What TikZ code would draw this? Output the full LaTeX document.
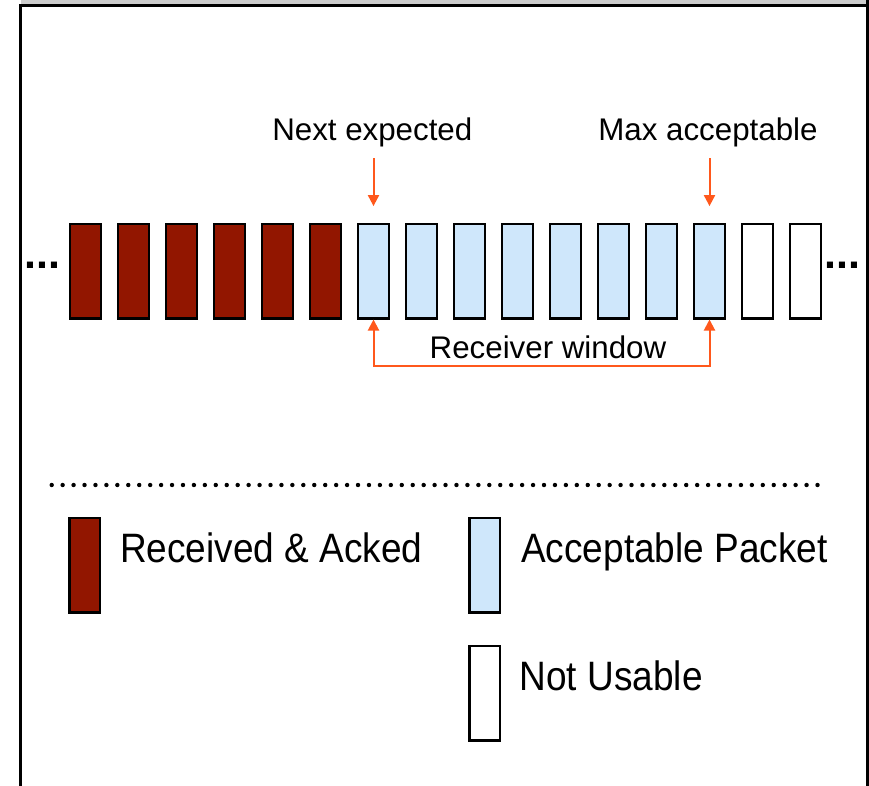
\documentclass[tikz,border=0pt]{standalone}
\usepackage{fontspec}
\usepackage{graphicx}
\setmainfont{Liberation Sans}
\usetikzlibrary{arrows.meta}
\definecolor{ackred}{RGB}{146,22,0}
\definecolor{okblue}{RGB}{207,231,251}
\definecolor{winorange}{RGB}{255,88,28}
\definecolor{headgray}{RGB}{204,204,204}
\begin{document}
\begin{tikzpicture}[x=1pt,y=-1pt,
  pkt/.style={draw=black,line width=2.3pt,minimum width=30.5pt,minimum height=94.1pt,
              inner sep=0pt,anchor=north west},
  acked/.style={pkt,fill=ackred},
  usable/.style={pkt,fill=okblue},
  unused/.style={pkt,fill=white},
  lbl/.style={inner sep=0pt,anchor=base,font=\fontsize{31.3}{36}\selectfont},
  legtext/.style={inner sep=0pt,anchor=base west,font=\fontsize{37}{42}\selectfont},
  more/.style={inner sep=0pt,anchor=base west,font=\fontsize{43}{48}\selectfont\bfseries},
  tip/.style={Triangle[length=11pt,width=11pt,fill=winorange]},
  winarrow/.style={draw=winorange,line width=2pt,arrows={-Triangle[length=11pt,width=11pt,fill=winorange]}},
  winspan/.style={draw=winorange,line width=2pt,
                  arrows={Triangle[length=11pt,width=11pt,fill=winorange]-Triangle[length=11pt,width=11pt,fill=winorange]}}]
\useasboundingbox (0,0) rectangle (869,785);

% frame with grey header strip
\fill[headgray] (20.5,-1) rectangle (866,5.5);
\draw[line width=2.4pt] (20.5,790) -- (20.5,5.5) -- (866,5.5);
\draw[line width=2.6pt] (867.4,-1) -- (867.4,790);

% packet sequence
\foreach \i in {0,...,5}{
  \node[acked] (p\i) at ({69.1+48*\i},223.1) {};
}
\foreach \i in {6,...,13}{
  \node[usable] (p\i) at ({69.1+48*\i},223.1) {};
}
\foreach \i in {14,15}{
  \node[unused] (p\i) at ({69.1+48*\i},223.1) {};
}

% continuation marks
\node[more] (dotsl) at (24.5,268.3) {...};
\node[more] (dotsr) at (824.5,268.8) {...};

% window labels and pointers
\node[lbl] (next) at (372.3,140) {Next expected};
\node[lbl] (max) at (708,140) {Max acceptable};
\coordinate (nexttail) at (p6.north |- 0,158);
\coordinate (maxtail) at (p13.north |- 0,158);
\draw[winarrow,shorten >=17pt] (nexttail) -- (p6.north);
\draw[winarrow,shorten >=17pt] (maxtail) -- (p13.north);

\draw[winspan] (p6.south) -- (p6.south |- 0,366) -- (p13.south |- 0,366) -- (p13.south);
\node[lbl] (win) at (548,358) {Receiver window};

% separator
\draw[line width=4.4pt,line cap=round,dash pattern=on 0pt off 10.94pt]
  (51.7,485) -- (818.5,485);

% legend
\node[acked] (kacked) at (68.4,517.1) {};
\node[legtext] (tacked) at (120,562.7) {\scalebox{1}[1.11]{Received \& Acked}};
\node[usable] (kusable) at (468.4,517.1) {};
\node[legtext] (tusable) at (521,562.7) {\scalebox{1}[1.11]{Acceptable Packet}};
\node[unused] (kunused) at (468.4,645.1) {};
\node[legtext] (tunused) at (519.5,690) {\scalebox{1}[1.11]{Not Usable}};
\end{tikzpicture}
\end{document}
